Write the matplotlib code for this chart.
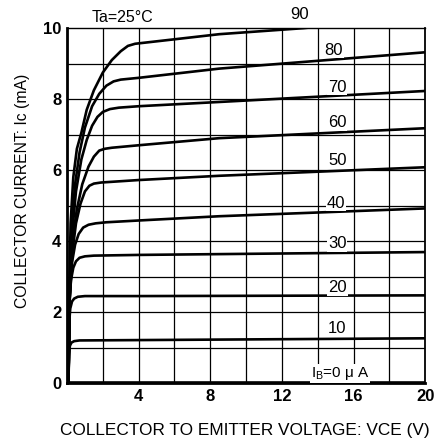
import matplotlib
matplotlib.use("Agg")
import matplotlib.pyplot as plt

plt.rcParams['font.family'] = ['Liberation Sans', 'DejaVu Sans']

# collector curves, one per base current (uA): Vce (V) -> Ic (mA)
ib_labels = ["90", "80", "70", "60", "50", "40", "30", "20", "10"]
vce = {
    "90": [0.08, 0.12, 0.2, 0.35, 0.55, 0.8, 1.1, 1.5, 2.0, 2.5, 3.0, 3.4, 3.8, 4.5, 8.5, 13.2, 20],
    "80": [0.08, 0.14, 0.25, 0.45, 0.7, 1.0, 1.4, 1.8, 2.2, 2.6, 3.0, 4, 8.5, 20],
    "70": [0.08, 0.15, 0.3, 0.5, 0.8, 1.1, 1.4, 1.7, 2.0, 2.4, 2.9, 4, 8.5, 20],
    "60": [0.08, 0.15, 0.3, 0.55, 0.85, 1.2, 1.5, 1.8, 2.1, 2.5, 4, 8.5, 20],
    "50": [0.08, 0.15, 0.3, 0.5, 0.75, 1.0, 1.25, 1.5, 1.9, 4, 8.5, 20],
    "40": [0.08, 0.15, 0.28, 0.45, 0.65, 0.9, 1.2, 1.6, 2.2, 4, 8.5, 20],
    "30": [0.08, 0.13, 0.22, 0.35, 0.5, 0.7, 1.0, 1.5, 4, 20],
    "20": [0.08, 0.12, 0.18, 0.28, 0.4, 0.6, 1.0, 4, 20],
    "10": [0.08, 0.11, 0.16, 0.25, 0.4, 0.7, 4, 20],
    "0": [0.08, 20],
}
ic = {
    "90": [0, 2.5, 4.5, 5.8, 6.6, 7.05, 7.7, 8.25, 8.75, 9.1, 9.35, 9.5, 9.56, 9.6, 9.83, 10.0, 10.35],
    "80": [0, 2.5, 4.3, 5.6, 6.5, 7.2, 7.8, 8.15, 8.38, 8.5, 8.55, 8.6, 8.86, 9.32],
    "70": [0, 2.5, 4.3, 5.4, 6.3, 6.85, 7.25, 7.5, 7.64, 7.72, 7.76, 7.8, 7.92, 8.23],
    "60": [0, 2.5, 4.0, 4.9, 5.6, 6.1, 6.38, 6.55, 6.6, 6.63, 6.7, 6.9, 7.18],
    "50": [0, 2.4, 3.7, 4.5, 5.05, 5.4, 5.56, 5.62, 5.65, 5.72, 5.84, 6.08],
    "40": [0, 2.4, 3.4, 3.9, 4.2, 4.38, 4.46, 4.5, 4.53, 4.58, 4.7, 4.92],
    "30": [0, 2.2, 2.9, 3.25, 3.43, 3.53, 3.57, 3.59, 3.61, 3.69],
    "20": [0, 1.7, 2.1, 2.3, 2.38, 2.43, 2.45, 2.45, 2.47],
    "10": [0, 0.8, 1.05, 1.14, 1.18, 1.2, 1.21, 1.26],
    "0": [0.03, 0.03],
}
# label positions (V, mA)
label_x = [12.96, 14.9, 15.1, 15.1, 15.1, 15.0, 15.1, 15.1, 15.1]
label_y = [10.39, 9.38, 8.34, 7.35, 6.28, 5.07, 3.92, 2.7, 1.55]

x_ticks = [0, 4, 8, 12, 16, 20]
x_ticklabels = ["", "4", "8", "12", "16", "20"]
y_ticks = [0, 2, 4, 6, 8, 10]

fig = plt.figure(figsize=(4.41, 4.40), dpi=100)
ax = fig.add_axes([0.152, 0.1295, 0.812, 0.8065])
ax.set_xlim(0, 20)
ax.set_ylim(0, 10)

# grid
for gx in range(2, 20, 2):
    ax.axvline(gx, color="black", lw=0.9, zorder=1)
for gy in range(1, 10):
    ax.axhline(gy, color="black", lw=0.9, zorder=1)

for k in vce:
    ax.plot(vce[k], ic[k], color="black", lw=1.9, zorder=3, solid_capstyle="round")

box = dict(facecolor="white", edgecolor="none", pad=0.6)
for lab, lx, ly in zip(ib_labels, label_x, label_y):
    ax.text(lx, ly, lab, fontsize=12, ha="center", va="center", bbox=box,
            zorder=4, clip_on=False)
ax.text(15.25, 0.27, "I$_\\mathregular{B}$=0 \u03bc A", fontsize=11, ha="center",
        va="center", bbox=box, zorder=4)
ax.text(3.1, 10.3, "Ta=25\u00b0C", fontsize=11.5, ha="center", va="center", clip_on=False)

ax.set_xticks(x_ticks)
ax.set_xticklabels(x_ticklabels)
ax.set_yticks(y_ticks)
ax.tick_params(length=0, labelsize=12, pad=4)
for t in ax.get_xticklabels() + ax.get_yticklabels():
    t.set_fontweight("bold")

ax.spines["left"].set_linewidth(2.0)
ax.spines["bottom"].set_linewidth(2.0)
ax.spines["right"].set_linewidth(1.3)
ax.spines["top"].set_linewidth(1.0)

# axis titles placed as figure text to match the reference offsets
fig.text(0.555, 1 - 430 / 440, "COLLECTOR TO EMITTER VOLTAGE: VCE (V)", fontsize=12.4,
         ha="center", va="center")
fig.text(23 / 441, 1 - 191 / 440, "COLLECTOR CURRENT: Ic (mA)", fontsize=11.3,
         ha="center", va="center", rotation=90)

fig.savefig("out.png", dpi=100)
